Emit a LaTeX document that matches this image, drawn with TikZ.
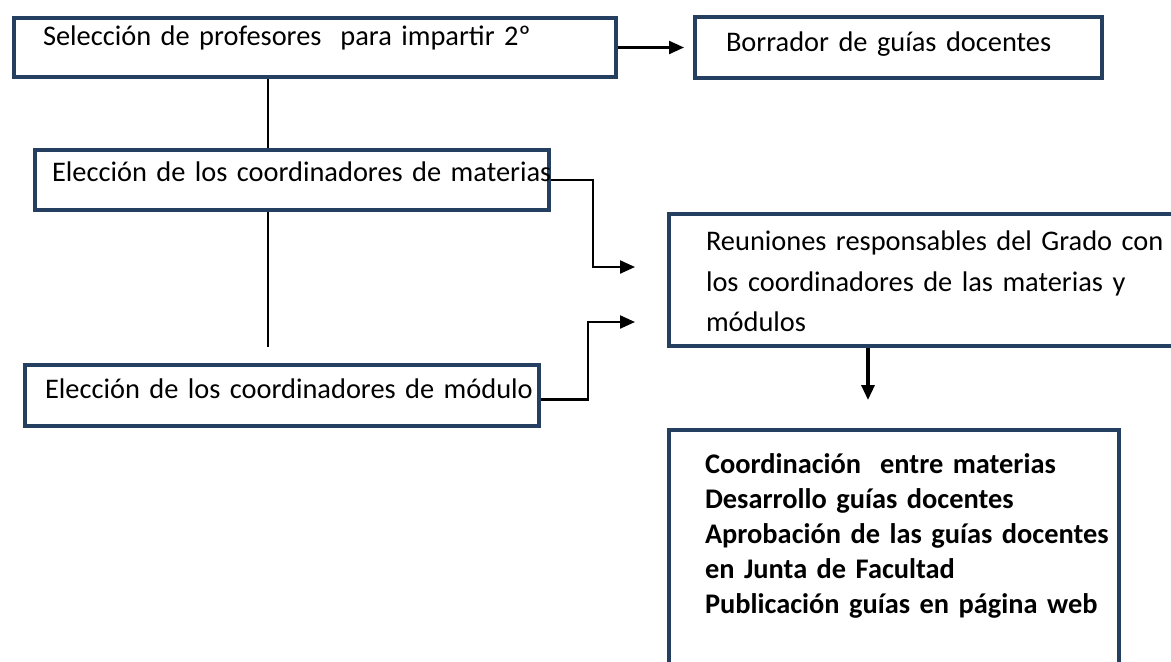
\documentclass[tikz,border=0pt]{standalone}
\usepackage{fontspec}
\setmainfont{Carlito}
\usepackage{tikz}
\usetikzlibrary{positioning,arrows.meta}
\usepackage{xcolor}
\definecolor{boxblue}{HTML}{243F60}

\begin{document}
\begin{tikzpicture}[x=0.5pt, y=-0.5pt,
  main/.style = {draw=boxblue, line width=2.2pt, outer sep=1.1pt, anchor=north west, align=left, inner ysep=0pt, font=\fontsize{14.2}{20.25}\selectfont},
  arr/.style = {line width=1.1pt, -{Triangle[length=7.5pt,width=6.5pt]}}]
\useasboundingbox (0,0) rectangle (1171,661);
\clip (0,0) rectangle (1171,661);

\node[main, text width=272pt, inner xsep=14.4pt, text height=13.65pt, text depth=15.65pt] (1) at (12,16) {Selección de profesores~ para impartir 2º};
\node[main, text width=172.5pt, inner xsep=15.4pt, text height=17.15pt, text depth=13.15pt] (2) at (693,15) {Borrador de guías docentes};
\node[main, text width=240pt, inner xsep=8.4pt, text height=15.65pt, text depth=14.15pt] (3) at (33,148) {\mbox{Elección de los coordinadores de materias}};
\node[main, text width=240pt, inner xsep=18.4pt, text height=18.15pt, text depth=47.65pt] (4) at (667,212) {Reuniones responsables del Grado con\\ los coordinadores de las materias y\\ módulos};
\node[main, text width=237pt, inner xsep=9.9pt, text height=16.65pt, text depth=13.65pt] (5) at (23,363) {\mbox{Elección de los coordinadores de módulo}};
\node[main, text width=189pt, inner xsep=17.9pt, text height=21.65pt, text depth=112pt, font=\fontsize{14.2}{17.5}\selectfont\bfseries] (6) at (667,428) {\mbox{Coordinación~ entre materias}\\ \mbox{Desarrollo guías docentes}\\ \mbox{Aprobación de las guías docentes}\\ \mbox{en Junta de Facultad}\\ \mbox{Publicación guías en página web}};

\coordinate (s) at (268,0);
\coordinate (e) at (268,347);
\coordinate (i1) at (635,267);
\coordinate (i2) at (635,322);
\coordinate (d) at (868,400);

\draw[arr, shorten >=4.5pt] (1) -- (2);
\draw[line width=1pt] (1.south -| s) -- (3.north -| s);
\draw[line width=1pt] (3.south -| s) -- (e);
\draw[arr] (3.east) -- ++(42,0) |- (i1);
\draw[arr] ([yshift=-2pt]5.east) -- ++(47,0) |- (i2);
\draw[arr, line width=1.6pt] (4.south -| d) -- (d);
\end{tikzpicture}
\end{document}
